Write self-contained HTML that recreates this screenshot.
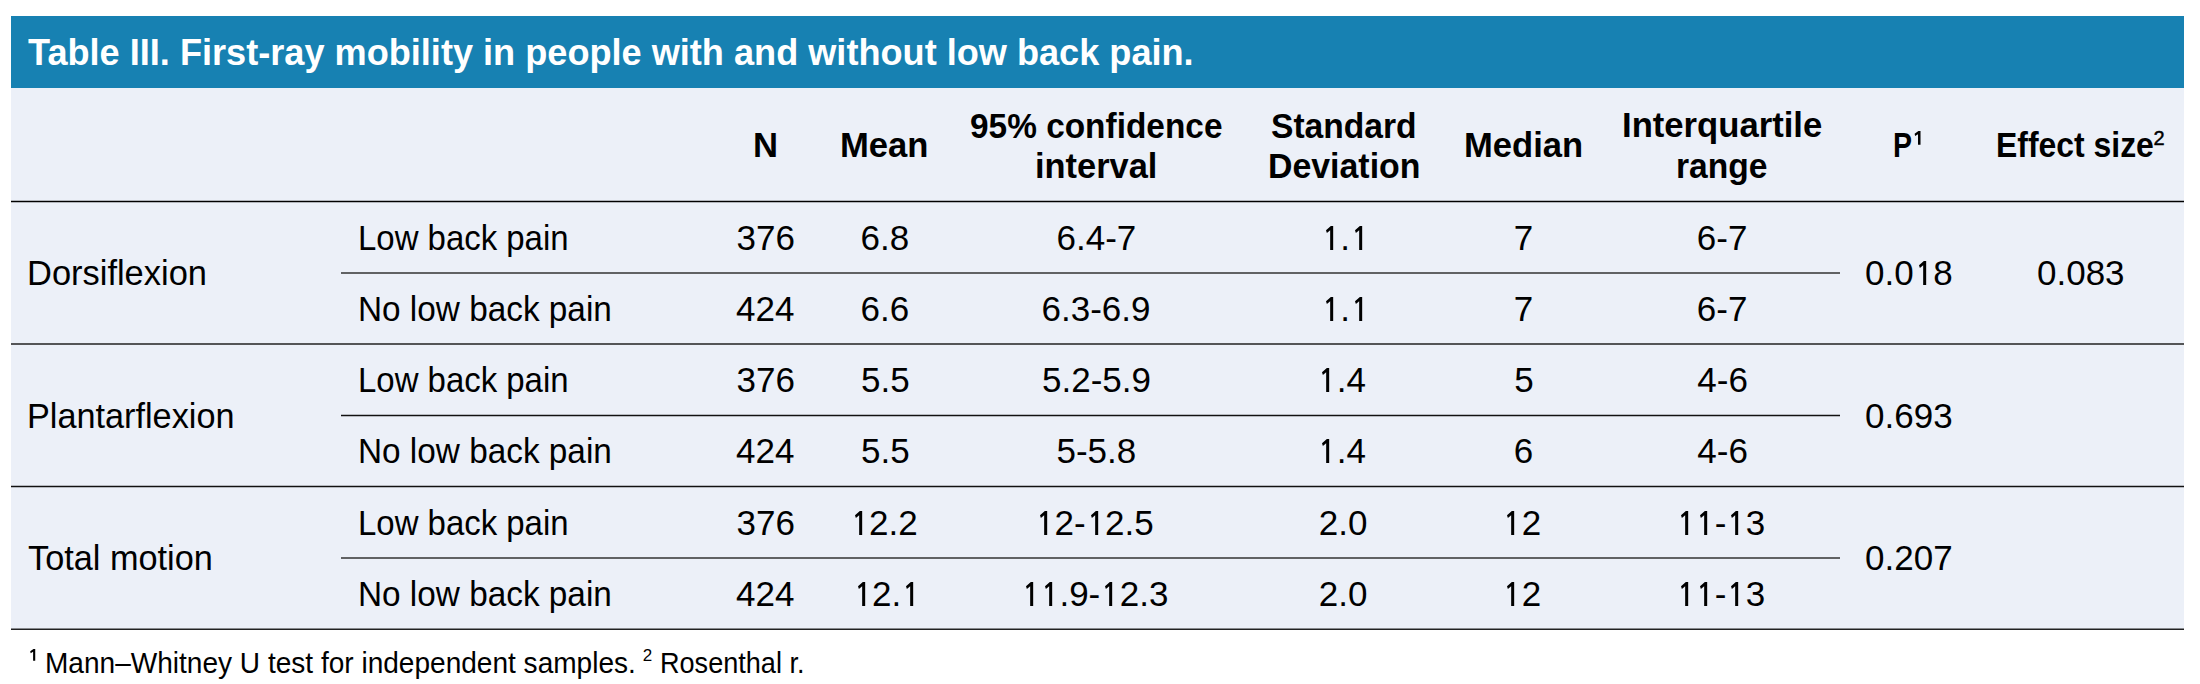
<!DOCTYPE html>
<html><head><meta charset="utf-8"><style>
html,body{margin:0;padding:0;background:#fff;width:2200px;height:684px;overflow:hidden}
.t{position:absolute;white-space:nowrap;font-family:"Liberation Sans", sans-serif;transform-origin:0 0}
#hdr{position:absolute;left:11px;top:16px;width:2173px;height:72px;background:#1781b2}
#bg{position:absolute;left:11px;top:88px;width:2173px;height:542px;background:#ecf0f8}
#lines{position:absolute;left:0;top:0}
</style></head><body>
<div id="hdr"></div><div id="bg"></div>
<svg id="lines" width="2200" height="684" viewBox="0 0 2200 684"><line x1='11' y1='201.5' x2='2184' y2='201.5' stroke='#000' stroke-width='1.6'/><line x1='341' y1='273' x2='1840' y2='273' stroke='#333' stroke-width='1.5'/><line x1='11' y1='344' x2='2184' y2='344' stroke='#222' stroke-width='1.5'/><line x1='341' y1='415.5' x2='1840' y2='415.5' stroke='#111' stroke-width='1.5'/><line x1='11' y1='486.5' x2='2184' y2='486.5' stroke='#111' stroke-width='1.5'/><line x1='341' y1='558' x2='1840' y2='558' stroke='#333' stroke-width='1.5'/><line x1='11' y1='629.3' x2='2184' y2='629.3' stroke='#222' stroke-width='1.6'/></svg>
<div class=t style='left:28.00px;top:33.67px;font-weight:700;font-size:37px;line-height:37px;color:#fff;transform:scaleX(0.9765);'>Table III. First-ray mobility in people with and without low back pain.</div>
<div class=t style='left:753.02px;top:127.37px;font-weight:700;font-size:35px;line-height:35px;color:#000;transform:scaleX(0.9905);'>N</div>
<div class=t style='left:840.42px;top:127.37px;font-weight:700;font-size:35px;line-height:35px;color:#000;transform:scaleX(0.9895);'>Mean</div>
<div class=t style='left:970.05px;top:107.87px;font-weight:700;font-size:35px;line-height:35px;color:#000;transform:scaleX(0.9544);'>95% confidence</div>
<div class=t style='left:1035.03px;top:148.37px;font-weight:700;font-size:35px;line-height:35px;color:#000;transform:scaleX(0.9833);'>interval</div>
<div class=t style='left:1271.04px;top:107.67px;font-weight:700;font-size:35px;line-height:35px;color:#000;transform:scaleX(0.9597);'>Standard</div>
<div class=t style='left:1268.06px;top:147.97px;font-weight:700;font-size:35px;line-height:35px;color:#000;transform:scaleX(0.9675);'>Deviation</div>
<div class=t style='left:1463.82px;top:127.37px;font-weight:700;font-size:35px;line-height:35px;color:#000;transform:scaleX(0.9880);'>Median</div>
<div class=t style='left:1622.02px;top:107.37px;font-weight:700;font-size:35px;line-height:35px;color:#000;transform:scaleX(0.9899);'>Interquartile</div>
<div class=t style='left:1675.78px;top:148.37px;font-weight:700;font-size:35px;line-height:35px;color:#000;transform:scaleX(0.9598);'>range</div>
<div class=t style='left:1893.17px;top:127.37px;font-weight:700;font-size:35px;line-height:35px;color:#000;transform:scaleX(0.8143);'>P</div>
<div class=t style='left:1912.35px;top:127.90px;font-weight:400;font-size:20px;line-height:20px;color:#000;'><svg viewBox='0 0 556 688' style='display:inline-block;vertical-align:baseline;width:0.556em;height:0.688em'><path d='M321 0H426V688H301V165L155 250L131 135Z' fill='currentColor'/></svg></div>
<div class=t style='left:1995.98px;top:127.37px;font-weight:700;font-size:35px;line-height:35px;color:#000;transform:scaleX(0.9118);'>Effect size</div>
<div class=t style='left:2153.45px;top:128.20px;font-weight:400;font-size:20px;line-height:20px;color:#000;-webkit-text-stroke:0.45px #000;'>2</div>
<div class=t style='left:358.08px;top:220.37px;font-weight:400;font-size:35px;line-height:35px;color:#000;transform:scaleX(0.9411);'>Low back pain</div>
<div class=t style='left:357.64px;top:291.37px;font-weight:400;font-size:35px;line-height:35px;color:#000;transform:scaleX(0.9523);'>No low back pain</div>
<div class=t style='left:358.08px;top:361.87px;font-weight:400;font-size:35px;line-height:35px;color:#000;transform:scaleX(0.9411);'>Low back pain</div>
<div class=t style='left:357.64px;top:432.87px;font-weight:400;font-size:35px;line-height:35px;color:#000;transform:scaleX(0.9523);'>No low back pain</div>
<div class=t style='left:358.08px;top:504.87px;font-weight:400;font-size:35px;line-height:35px;color:#000;transform:scaleX(0.9411);'>Low back pain</div>
<div class=t style='left:357.64px;top:575.87px;font-weight:400;font-size:35px;line-height:35px;color:#000;transform:scaleX(0.9523);'>No low back pain</div>
<div class=t style='left:26.55px;top:254.97px;font-weight:400;font-size:35px;line-height:35px;color:#000;transform:scaleX(0.9843);'>Dorsiflexion</div>
<div class=t style='left:26.57px;top:397.97px;font-weight:400;font-size:35px;line-height:35px;color:#000;transform:scaleX(0.9783);'>Plantarflexion</div>
<div class=t style='left:27.72px;top:539.77px;font-weight:400;font-size:35px;line-height:35px;color:#000;transform:scaleX(0.9796);'>Total motion</div>
<div class=t style='left:736.50px;top:220.37px;font-weight:400;font-size:35px;line-height:35px;color:#000;'>376</div>
<div class=t style='left:860.50px;top:220.37px;font-weight:400;font-size:35px;line-height:35px;color:#000;'>6.8</div>
<div class=t style='left:1056.50px;top:220.37px;font-weight:400;font-size:35px;line-height:35px;color:#000;'>6.4-7</div>
<div class=t style='left:1320.80px;top:220.37px;font-weight:400;font-size:35px;line-height:35px;color:#000;'><svg viewBox='0 0 556 688' style='display:inline-block;vertical-align:baseline;width:0.556em;height:0.688em'><path d='M282 0H348V688H262V120L168 198L143 118Z' fill='currentColor'/></svg>.<svg viewBox='0 0 556 688' style='display:inline-block;vertical-align:baseline;width:0.556em;height:0.688em'><path d='M282 0H348V688H262V120L168 198L143 118Z' fill='currentColor'/></svg></div>
<div class=t style='left:1513.70px;top:220.37px;font-weight:400;font-size:35px;line-height:35px;color:#000;'>7</div>
<div class=t style='left:1696.80px;top:220.37px;font-weight:400;font-size:35px;line-height:35px;color:#000;'>6-7</div>
<div class=t style='left:736.00px;top:291.37px;font-weight:400;font-size:35px;line-height:35px;color:#000;'>424</div>
<div class=t style='left:860.50px;top:291.37px;font-weight:400;font-size:35px;line-height:35px;color:#000;'>6.6</div>
<div class=t style='left:1041.50px;top:291.37px;font-weight:400;font-size:35px;line-height:35px;color:#000;'>6.3-6.9</div>
<div class=t style='left:1320.80px;top:291.37px;font-weight:400;font-size:35px;line-height:35px;color:#000;'><svg viewBox='0 0 556 688' style='display:inline-block;vertical-align:baseline;width:0.556em;height:0.688em'><path d='M282 0H348V688H262V120L168 198L143 118Z' fill='currentColor'/></svg>.<svg viewBox='0 0 556 688' style='display:inline-block;vertical-align:baseline;width:0.556em;height:0.688em'><path d='M282 0H348V688H262V120L168 198L143 118Z' fill='currentColor'/></svg></div>
<div class=t style='left:1513.70px;top:291.37px;font-weight:400;font-size:35px;line-height:35px;color:#000;'>7</div>
<div class=t style='left:1696.80px;top:291.37px;font-weight:400;font-size:35px;line-height:35px;color:#000;'>6-7</div>
<div class=t style='left:736.50px;top:361.87px;font-weight:400;font-size:35px;line-height:35px;color:#000;'>376</div>
<div class=t style='left:861.00px;top:361.87px;font-weight:400;font-size:35px;line-height:35px;color:#000;'>5.5</div>
<div class=t style='left:1042.00px;top:361.87px;font-weight:400;font-size:35px;line-height:35px;color:#000;'>5.2-5.9</div>
<div class=t style='left:1317.30px;top:361.87px;font-weight:400;font-size:35px;line-height:35px;color:#000;'><svg viewBox='0 0 556 688' style='display:inline-block;vertical-align:baseline;width:0.556em;height:0.688em'><path d='M282 0H348V688H262V120L168 198L143 118Z' fill='currentColor'/></svg>.4</div>
<div class=t style='left:1514.20px;top:361.87px;font-weight:400;font-size:35px;line-height:35px;color:#000;'>5</div>
<div class=t style='left:1697.30px;top:361.87px;font-weight:400;font-size:35px;line-height:35px;color:#000;'>4-6</div>
<div class=t style='left:736.00px;top:432.87px;font-weight:400;font-size:35px;line-height:35px;color:#000;'>424</div>
<div class=t style='left:861.00px;top:432.87px;font-weight:400;font-size:35px;line-height:35px;color:#000;'>5.5</div>
<div class=t style='left:1056.50px;top:432.87px;font-weight:400;font-size:35px;line-height:35px;color:#000;'>5-5.8</div>
<div class=t style='left:1317.30px;top:432.87px;font-weight:400;font-size:35px;line-height:35px;color:#000;'><svg viewBox='0 0 556 688' style='display:inline-block;vertical-align:baseline;width:0.556em;height:0.688em'><path d='M282 0H348V688H262V120L168 198L143 118Z' fill='currentColor'/></svg>.4</div>
<div class=t style='left:1513.70px;top:432.87px;font-weight:400;font-size:35px;line-height:35px;color:#000;'>6</div>
<div class=t style='left:1697.30px;top:432.87px;font-weight:400;font-size:35px;line-height:35px;color:#000;'>4-6</div>
<div class=t style='left:736.50px;top:504.87px;font-weight:400;font-size:35px;line-height:35px;color:#000;'>376</div>
<div class=t style='left:849.50px;top:504.87px;font-weight:400;font-size:35px;line-height:35px;color:#000;'><svg viewBox='0 0 556 688' style='display:inline-block;vertical-align:baseline;width:0.556em;height:0.688em'><path d='M282 0H348V688H262V120L168 198L143 118Z' fill='currentColor'/></svg>2.2</div>
<div class=t style='left:1035.00px;top:504.87px;font-weight:400;font-size:35px;line-height:35px;color:#000;'><svg viewBox='0 0 556 688' style='display:inline-block;vertical-align:baseline;width:0.556em;height:0.688em'><path d='M282 0H348V688H262V120L168 198L143 118Z' fill='currentColor'/></svg>2-<svg viewBox='0 0 556 688' style='display:inline-block;vertical-align:baseline;width:0.556em;height:0.688em'><path d='M282 0H348V688H262V120L168 198L143 118Z' fill='currentColor'/></svg>2.5</div>
<div class=t style='left:1318.80px;top:504.87px;font-weight:400;font-size:35px;line-height:35px;color:#000;'>2.0</div>
<div class=t style='left:1502.20px;top:504.87px;font-weight:400;font-size:35px;line-height:35px;color:#000;'><svg viewBox='0 0 556 688' style='display:inline-block;vertical-align:baseline;width:0.556em;height:0.688em'><path d='M282 0H348V688H262V120L168 198L143 118Z' fill='currentColor'/></svg>2</div>
<div class=t style='left:1675.80px;top:504.87px;font-weight:400;font-size:35px;line-height:35px;color:#000;'><svg viewBox='0 0 556 688' style='display:inline-block;vertical-align:baseline;width:0.556em;height:0.688em'><path d='M282 0H348V688H262V120L168 198L143 118Z' fill='currentColor'/></svg><svg viewBox='0 0 556 688' style='display:inline-block;vertical-align:baseline;width:0.556em;height:0.688em'><path d='M282 0H348V688H262V120L168 198L143 118Z' fill='currentColor'/></svg>-<svg viewBox='0 0 556 688' style='display:inline-block;vertical-align:baseline;width:0.556em;height:0.688em'><path d='M282 0H348V688H262V120L168 198L143 118Z' fill='currentColor'/></svg>3</div>
<div class=t style='left:736.00px;top:575.87px;font-weight:400;font-size:35px;line-height:35px;color:#000;'>424</div>
<div class=t style='left:852.50px;top:575.87px;font-weight:400;font-size:35px;line-height:35px;color:#000;'><svg viewBox='0 0 556 688' style='display:inline-block;vertical-align:baseline;width:0.556em;height:0.688em'><path d='M282 0H348V688H262V120L168 198L143 118Z' fill='currentColor'/></svg>2.<svg viewBox='0 0 556 688' style='display:inline-block;vertical-align:baseline;width:0.556em;height:0.688em'><path d='M282 0H348V688H262V120L168 198L143 118Z' fill='currentColor'/></svg></div>
<div class=t style='left:1020.50px;top:575.87px;font-weight:400;font-size:35px;line-height:35px;color:#000;'><svg viewBox='0 0 556 688' style='display:inline-block;vertical-align:baseline;width:0.556em;height:0.688em'><path d='M282 0H348V688H262V120L168 198L143 118Z' fill='currentColor'/></svg><svg viewBox='0 0 556 688' style='display:inline-block;vertical-align:baseline;width:0.556em;height:0.688em'><path d='M282 0H348V688H262V120L168 198L143 118Z' fill='currentColor'/></svg>.9-<svg viewBox='0 0 556 688' style='display:inline-block;vertical-align:baseline;width:0.556em;height:0.688em'><path d='M282 0H348V688H262V120L168 198L143 118Z' fill='currentColor'/></svg>2.3</div>
<div class=t style='left:1318.80px;top:575.87px;font-weight:400;font-size:35px;line-height:35px;color:#000;'>2.0</div>
<div class=t style='left:1502.20px;top:575.87px;font-weight:400;font-size:35px;line-height:35px;color:#000;'><svg viewBox='0 0 556 688' style='display:inline-block;vertical-align:baseline;width:0.556em;height:0.688em'><path d='M282 0H348V688H262V120L168 198L143 118Z' fill='currentColor'/></svg>2</div>
<div class=t style='left:1675.80px;top:575.87px;font-weight:400;font-size:35px;line-height:35px;color:#000;'><svg viewBox='0 0 556 688' style='display:inline-block;vertical-align:baseline;width:0.556em;height:0.688em'><path d='M282 0H348V688H262V120L168 198L143 118Z' fill='currentColor'/></svg><svg viewBox='0 0 556 688' style='display:inline-block;vertical-align:baseline;width:0.556em;height:0.688em'><path d='M282 0H348V688H262V120L168 198L143 118Z' fill='currentColor'/></svg>-<svg viewBox='0 0 556 688' style='display:inline-block;vertical-align:baseline;width:0.556em;height:0.688em'><path d='M282 0H348V688H262V120L168 198L143 118Z' fill='currentColor'/></svg>3</div>
<div class=t style='left:1865.10px;top:254.87px;font-weight:400;font-size:35px;line-height:35px;color:#000;'>0.0<svg viewBox='0 0 556 688' style='display:inline-block;vertical-align:baseline;width:0.556em;height:0.688em'><path d='M282 0H348V688H262V120L168 198L143 118Z' fill='currentColor'/></svg>8</div>
<div class=t style='left:1865.10px;top:397.97px;font-weight:400;font-size:35px;line-height:35px;color:#000;'>0.693</div>
<div class=t style='left:1865.10px;top:539.77px;font-weight:400;font-size:35px;line-height:35px;color:#000;'>0.207</div>
<div class=t style='left:2037.00px;top:254.87px;font-weight:400;font-size:35px;line-height:35px;color:#000;'>0.083</div>
<div class=t style='left:28.20px;top:647.00px;font-weight:400;font-size:17px;line-height:17px;color:#000;'><svg viewBox='0 0 556 688' style='display:inline-block;vertical-align:baseline;width:0.556em;height:0.688em'><path d='M321 0H426V688H301V165L155 250L131 135Z' fill='currentColor'/></svg></div>
<div class=t style='left:45.07px;top:649.45px;font-weight:400;font-size:29px;line-height:29px;color:#000;transform:scaleX(0.9671);'>Mann–Whitney U test for independent samples.</div>
<div class=t style='left:642.85px;top:647.00px;font-weight:400;font-size:17px;line-height:17px;color:#000;'>2</div>
<div class=t style='left:659.63px;top:649.45px;font-weight:400;font-size:29px;line-height:29px;color:#000;transform:scaleX(0.9338);'>Rosenthal r.</div>
</body></html>
